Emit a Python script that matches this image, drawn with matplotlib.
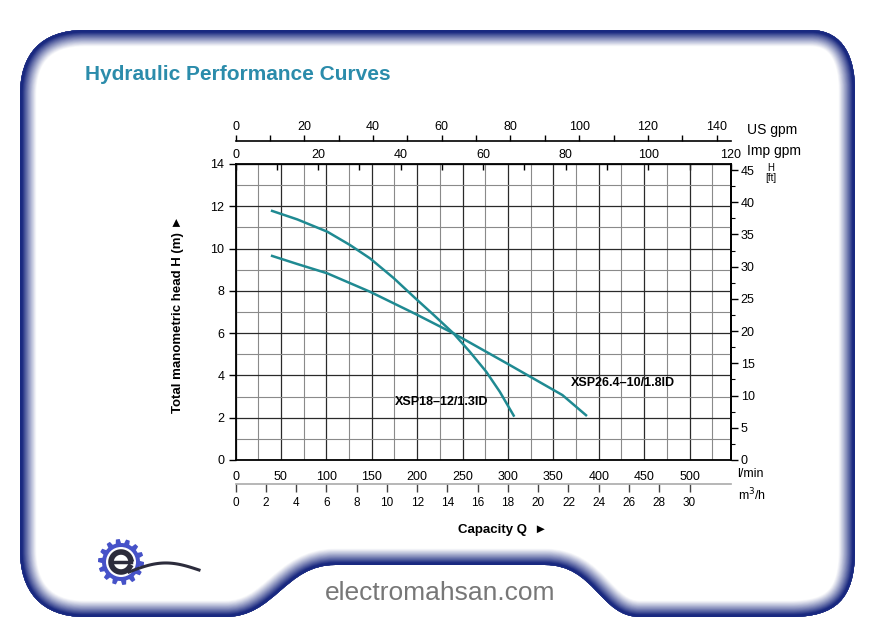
import numpy as np
import matplotlib
matplotlib.use("Agg")
import matplotlib.pyplot as plt
from matplotlib.path import Path
from matplotlib.patches import PathPatch, Polygon, Circle
from matplotlib.transforms import Affine2D
from matplotlib.ticker import MultipleLocator, FixedLocator

# ---------------- data ----------------
q_18 = [39, 68, 101, 126, 148, 174, 198, 218, 240, 258, 276, 291, 307]          # l/min
h_18 = [11.80, 11.38, 10.80, 10.17, 9.54, 8.61, 7.65, 6.87, 5.99, 5.12, 4.18, 3.23, 2.05]  # m
q_26 = [39, 68, 101, 148, 198, 240, 300, 360, 387]
h_26 = [9.67, 9.27, 8.83, 7.96, 6.91, 5.99, 4.54, 3.07, 2.08]
name_18 = "XSP18–12/1.3ID"
name_26 = "XSP26.4–10/1.8ID"

lmin_ticks = list(range(0, 501, 50))
m_ticks = list(range(0, 15, 2))
ft_ticks = list(range(0, 46, 5))
us_ticks = list(range(0, 141, 20))
imp_ticks = list(range(0, 121, 20))
m3h_ticks = list(range(0, 31, 2))

W, H = 871, 627
FONT = ["Liberation Sans", "DejaVu Sans"]
plt.rcParams["font.family"] = FONT

fig = plt.figure(figsize=(W / 100, H / 100), dpi=100)
fig.patch.set_facecolor("white")

def fx(x):
    return x / W

def fy(y):
    return 1 - y / H

T = Affine2D().scale(1 / W, -1 / H).translate(0, 1) + fig.transFigure

# ---------------- frame with inward gradient ----------------
M, L, C4, CL = Path.MOVETO, Path.LINETO, Path.CURVE4, Path.CLOSEPOLY
verts = [
    (20, 95), (20, 55), (40, 30), (85, 30),
    (810, 30), (845, 30), (855, 60), (855, 90),
    (855, 550), (855, 600), (835, 617), (790, 617),
    (640, 617), (600, 617), (595, 565), (545, 565),
    (335, 565), (285, 565), (275, 617), (225, 617),
    (85, 617), (40, 617), (20, 590), (20, 550),
    (20, 95),
]
codes = [M, C4, C4, C4, L, C4, C4, C4, L, C4, C4, C4, L, C4, C4, C4,
         L, C4, C4, C4, L, C4, C4, C4, CL]
frame_path = Path(verts, codes)
clip_patch = PathPatch(frame_path, transform=T, facecolor="none", edgecolor="none")
fig.add_artist(clip_patch)
navy = np.array([0.10, 0.16, 0.50])
white = np.array([1.0, 1.0, 1.0])
n = 20
for i in range(n):
    t = i / (n - 1)
    w_px = 17 * (1 - t) + 2.5 * t
    col = white + (navy - white) * (t ** 1.1)
    pp = PathPatch(frame_path, transform=T, facecolor="none", edgecolor=col,
                   linewidth=2 * w_px * 0.72, joinstyle="round")
    fig.add_artist(pp)
    pp.set_clip_path(clip_patch)

# ---------------- title ----------------
fig.text(fx(85), fy(75), "Hydraulic Performance Curves", fontsize=15,
         fontweight="bold", color="#2b8cab", ha="left", va="center")

# ---------------- main axes ----------------
x0, x1, y0, y1 = 235.5, 731, 460, 164
ax = fig.add_axes([fx(x0), fy(y0), fx(x1) - fx(x0), (y0 - y1) / H])
ax.set_xlim(0, 545.6)
ax.set_ylim(0, 14)

ax.xaxis.set_major_locator(FixedLocator(lmin_ticks))
ax.xaxis.set_minor_locator(FixedLocator([v + 25 for v in lmin_ticks]))
ax.yaxis.set_major_locator(FixedLocator(m_ticks))
ax.yaxis.set_minor_locator(MultipleLocator(1))
ax.tick_params(axis="x", which="both", length=0, pad=8, labelsize=9)
ax.tick_params(axis="y", which="major", length=5, width=1, pad=3, labelsize=9)
ax.tick_params(axis="y", which="minor", length=0)
ax.grid(which="major", color="#2a2a2a", linewidth=0.9)
ax.grid(which="minor", color="#8a8a8a", linewidth=0.8)
for s in ax.spines.values():
    s.set_linewidth(1.3)
    s.set_color("black")

curve_col = "#1f8a92"
ax.plot(q_18, h_18, color=curve_col, linewidth=1.8, solid_capstyle="butt")
ax.plot(q_26, h_26, color=curve_col, linewidth=1.8, solid_capstyle="butt")
ax.text(175, 2.72, name_18, fontsize=9, fontweight="bold", ha="left", va="center")
ax.text(369, 3.66, name_26, fontsize=9, fontweight="bold", ha="left", va="center")

# right axis in ft
m2ft = lambda m: np.asarray(m) * 3.2808
ft2m = lambda f: np.asarray(f) / 3.2808
rax = ax.secondary_yaxis("right", functions=(m2ft, ft2m))
rax.yaxis.set_major_locator(FixedLocator(ft_ticks))
rax.yaxis.set_minor_locator(MultipleLocator(2.5))
rax.tick_params(which="major", length=5, width=1, pad=2, labelsize=9)
rax.tick_params(which="minor", length=3, width=0.8)
rax.spines["right"].set_linewidth(1.3)

# top: Imp gpm on the frame top
l2imp = lambda q: np.asarray(q) / 4.546
imp2l = lambda g: np.asarray(g) * 4.546
iax = ax.secondary_xaxis("top", functions=(l2imp, imp2l))
iax.xaxis.set_major_locator(FixedLocator(imp_ticks))
iax.xaxis.set_minor_locator(MultipleLocator(10))
iax.tick_params(which="both", direction="in", length=4, width=1, pad=2, labelsize=9)

# top: US gpm line above
l2us = lambda q: np.asarray(q) / 3.785
us2l = lambda g: np.asarray(g) * 3.785
uax = ax.secondary_xaxis((y0 - 141) / (y0 - y1), functions=(l2us, us2l))
uax.xaxis.set_major_locator(FixedLocator(us_ticks))
uax.xaxis.set_minor_locator(MultipleLocator(10))
uax.tick_params(which="both", direction="out", length=4, width=1, pad=2, labelsize=9)
uax.spines["top"].set_linewidth(1.2)

# bottom: m3/h
l2m3 = lambda q: np.asarray(q) * 0.06
m32l = lambda v: np.asarray(v) / 0.06
max_ = ax.secondary_xaxis(-(484 - y0) / (y0 - y1), functions=(l2m3, m32l))
max_.xaxis.set_major_locator(FixedLocator(m3h_ticks))
max_.tick_params(which="both", direction="out", length=6, width=1, color="#444444",
                 pad=3, labelsize=8.5)
max_.spines["bottom"].set_color("#aaaaaa")
max_.spines["bottom"].set_linewidth(1.2)

# unit labels
fig.text(fx(747), fy(130), "US gpm", fontsize=10, ha="left", va="center")
fig.text(fx(747), fy(151), "Imp gpm", fontsize=10, ha="left", va="center")
fig.text(fx(737), fy(474), "l/min", fontsize=9, ha="left", va="center")
fig.text(fx(738), fy(495), "m$^3$/h", fontsize=9, ha="left", va="center")
fig.text(fx(771), fy(168), "H", fontsize=7, ha="center", va="center")
fig.text(fx(771), fy(178), "[ft]", fontsize=7, ha="center", va="center")

fig.text(fx(178), fy(314), "Total manometric head H (m) ►", fontsize=9.5,
         fontweight="bold", rotation=90, ha="center", va="center",
         family=FONT)
fig.text(fx(503), fy(530), "Capacity Q  ►", fontsize=9.5, fontweight="bold",
         ha="center", va="center", family=FONT)

# ---------------- logo (decoration) ----------------
cx, cy = 121, 562
ang = np.linspace(0, 2 * np.pi, 14 * 8, endpoint=False)
rad = np.where((np.floor(ang / (2 * np.pi / 14) * 2) % 2) == 0, 23, 19)
gear = Polygon(np.c_[cx + rad * np.cos(ang), cy + rad * np.sin(ang)], closed=True,
               transform=T, facecolor="#4652c8", edgecolor="none")
fig.add_artist(gear)
fig.add_artist(Circle((cx, cy), 15, transform=T, facecolor="white", edgecolor="none"))
th = np.linspace(np.deg2rad(15), np.deg2rad(330), 60)
fig.add_artist(plt.Line2D(cx + 10 * np.cos(th), cy - 10 * np.sin(th), transform=T,
                          color="#2c2c3c", linewidth=4))
fig.add_artist(plt.Line2D([cx - 10, cx + 10], [cy, cy], transform=T,
                          color="#2c2c3c", linewidth=2.5))
tt = np.linspace(0, 1, 40)
fig.add_artist(plt.Line2D(cx + 8 + 70 * tt, cy + 10 - 8 * np.sin(np.pi * tt) - 2 * tt,
                          transform=T, color="#2c2c3c", linewidth=2.2))

# ---------------- website ----------------
fig.text(fx(440), fy(593), "electromahsan.com", fontsize=19, color="#777777",
         ha="center", va="center",
         family=["Liberation Sans Narrow", "Liberation Sans", "DejaVu Sans"])

fig.savefig("out.png", dpi=100, facecolor="white")
